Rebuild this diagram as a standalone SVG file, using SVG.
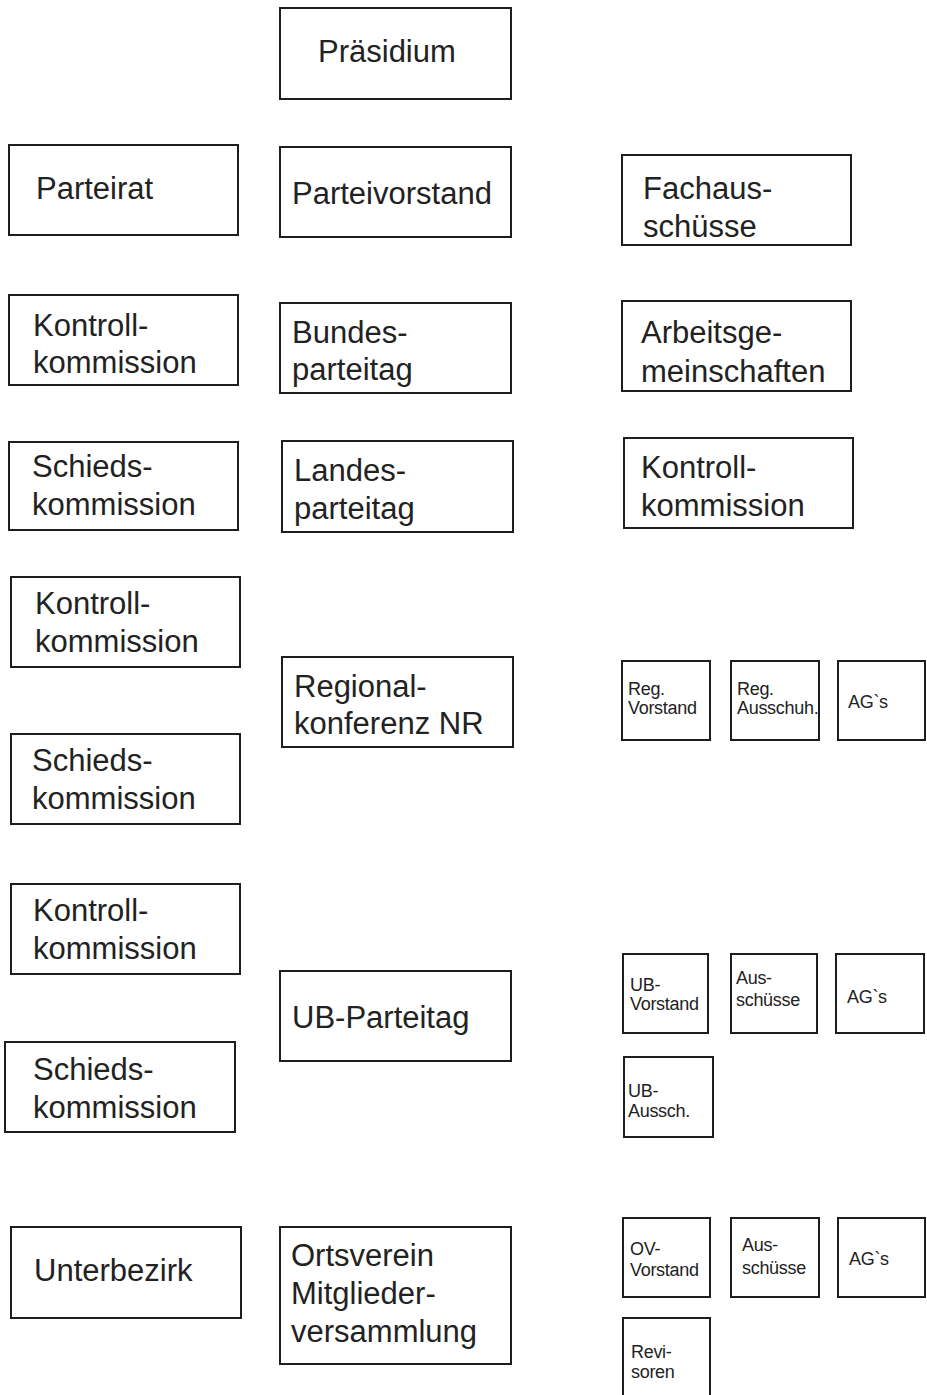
<svg xmlns="http://www.w3.org/2000/svg" width="927" height="1395" viewBox="0 0 927 1395">
<style>
rect{fill:#fff;stroke:#1e1e1e;stroke-width:2}
text{font-family:"Liberation Sans",Arial,sans-serif;fill:#222}
.b{font-size:31px}
.s{font-size:18px;letter-spacing:-0.3px}
</style>
<rect x="0" y="0" width="927" height="1395" style="stroke:none"/>
<g id="praesidium"><rect x="280" y="8" width="231" height="91"/><text class="b" x="318" y="62">Präsidium</text></g>
<g id="parteirat"><rect x="9" y="145" width="229" height="90"/><text class="b" x="36" y="199">Parteirat</text></g>
<g id="parteivorstand"><rect x="280" y="147" width="231" height="90"/><text class="b" x="292" y="204">Parteivorstand</text></g>
<g id="fachausschuesse"><rect x="622" y="155" width="229" height="90"/><text class="b" x="643" y="199">Fachaus-</text><text class="b" x="643" y="237">schüsse</text></g>
<g id="kontroll1"><rect x="9" y="295" width="229" height="90"/><text class="b" x="33" y="336">Kontroll-</text><text class="b" x="33" y="373">kommission</text></g>
<g id="bundesparteitag"><rect x="280" y="303" width="231" height="90"/><text class="b" x="292" y="343">Bundes-</text><text class="b" x="292" y="380">parteitag</text></g>
<g id="arbeitsgemeinschaften"><rect x="622" y="301" width="229" height="90"/><text class="b" x="641" y="343">Arbeitsge-</text><text class="b" x="641" y="382">meinschaften</text></g>
<g id="schieds1"><rect x="9" y="442" width="229" height="88"/><text class="b" x="32" y="477">Schieds-</text><text class="b" x="32" y="515">kommission</text></g>
<g id="landesparteitag"><rect x="282" y="441" width="231" height="91"/><text class="b" x="294" y="481">Landes-</text><text class="b" x="294" y="519">parteitag</text></g>
<g id="kontroll-r"><rect x="624" y="438" width="229" height="90"/><text class="b" x="641" y="478">Kontroll-</text><text class="b" x="641" y="516">kommission</text></g>
<g id="kontroll2"><rect x="11" y="577" width="229" height="90"/><text class="b" x="35" y="614">Kontroll-</text><text class="b" x="35" y="652">kommission</text></g>
<g id="regionalkonferenz"><rect x="282" y="657" width="231" height="90"/><text class="b" x="294" y="697">Regional-</text><text class="b" x="294" y="734">konferenz NR</text></g>
<g id="schieds2"><rect x="11" y="734" width="229" height="90"/><text class="b" x="32" y="771">Schieds-</text><text class="b" x="32" y="809">kommission</text></g>
<g id="reg-vorstand"><rect x="622" y="661" width="88" height="79"/><text class="s" x="628" y="695">Reg.</text><text class="s" x="628" y="714">Vorstand</text></g>
<g id="reg-ausschuh"><rect x="731" y="661" width="88" height="79"/><text class="s" x="737" y="695">Reg.</text><text class="s" x="737" y="714">Ausschuh.</text></g>
<g id="reg-ags"><rect x="838" y="661" width="87" height="79"/><text class="s" x="848" y="708">AG`s</text></g>
<g id="kontroll3"><rect x="11" y="884" width="229" height="90"/><text class="b" x="33" y="921">Kontroll-</text><text class="b" x="33" y="959">kommission</text></g>
<g id="ub-parteitag"><rect x="280" y="971" width="231" height="90"/><text class="b" x="292" y="1028">UB-Parteitag</text></g>
<g id="schieds3"><rect x="5" y="1042" width="230" height="90"/><text class="b" x="33" y="1080">Schieds-</text><text class="b" x="33" y="1118">kommission</text></g>
<g id="ub-vorstand"><rect x="623" y="954" width="85" height="79"/><text class="s" x="630" y="991">UB-</text><text class="s" x="630" y="1010">Vorstand</text></g>
<g id="ub-ausschuesse"><rect x="731" y="954" width="86" height="79"/><text class="s" x="736" y="984">Aus-</text><text class="s" x="736" y="1006">schüsse</text></g>
<g id="ub-ags"><rect x="836" y="954" width="88" height="79"/><text class="s" x="847" y="1003">AG`s</text></g>
<g id="ub-aussch"><rect x="624" y="1057" width="89" height="80"/><text class="s" x="628" y="1097">UB-</text><text class="s" x="628" y="1117">Aussch.</text></g>
<g id="unterbezirk"><rect x="11" y="1227" width="230" height="91"/><text class="b" x="34" y="1281">Unterbezirk</text></g>
<g id="ortsverein"><rect x="280" y="1227" width="231" height="137"/><text class="b" x="291" y="1266">Ortsverein</text><text class="b" x="291" y="1304">Mitglieder-</text><text class="b" x="291" y="1342">versammlung</text></g>
<g id="ov-vorstand"><rect x="623" y="1218" width="87" height="79"/><text class="s" x="630" y="1255">OV-</text><text class="s" x="630" y="1276">Vorstand</text></g>
<g id="ov-ausschuesse"><rect x="731" y="1218" width="88" height="79"/><text class="s" x="742" y="1251">Aus-</text><text class="s" x="742" y="1274">schüsse</text></g>
<g id="ov-ags"><rect x="838" y="1218" width="87" height="79"/><text class="s" x="849" y="1265">AG`s</text></g>
<g id="revisoren"><rect x="623" y="1318" width="87" height="82"/><text class="s" x="631" y="1358">Revi-</text><text class="s" x="631" y="1378">soren</text></g>
<g id="connectors"></g>
</svg>
